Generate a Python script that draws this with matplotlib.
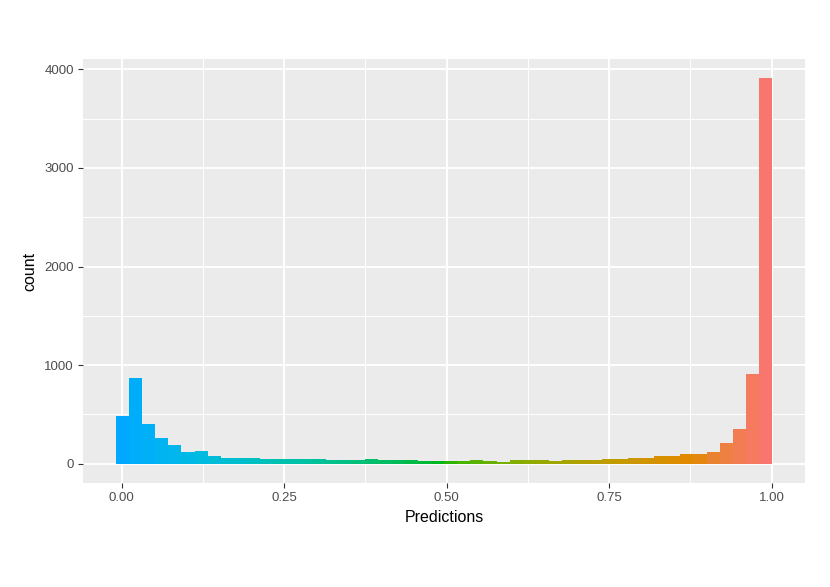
import numpy as np
import matplotlib
matplotlib.use("Agg")
import matplotlib.pyplot as plt
from matplotlib.ticker import MultipleLocator

# ---- data: histogram of predictions (50 bins) ----
counts = [485, 868, 405, 265, 190, 118, 130, 76, 60, 58,
          55, 50, 48, 47, 46, 45, 40, 40, 38, 50,
          40, 39, 38, 28, 27, 27, 28, 40, 30, 16,
          37, 38, 37, 25, 40, 41, 42, 48, 50, 57,
          60, 74, 78, 97, 100, 117, 212, 354, 908, 3910]
bin_lo, bin_hi = -0.0090, 1.0010
x_ticks = [0.00, 0.25, 0.50, 0.75, 1.00]
x_tick_labels = ["0.00", "0.25", "0.50", "0.75", "1.00"]
y_ticks = [0, 1000, 2000, 3000, 4000]
y_tick_labels = ["0", "1000", "2000", "3000", "4000"]
x_title = "Predictions"
y_title = "count"

counts = np.array(counts, dtype=float)
edges = np.linspace(bin_lo, bin_hi, len(counts) + 1)
centers = (edges[:-1] + edges[1:]) / 2
width = edges[1] - edges[0]


def hcl_to_rgb(h, c, l):
    hr = np.deg2rad(h)
    u = c * np.cos(hr)
    v = c * np.sin(hr)
    Xn, Yn, Zn = 95.047, 100.0, 108.883
    Y = Yn * ((l + 16) / 116) ** 3 if l > 8 else Yn * l / 903.3
    un = 4 * Xn / (Xn + 15 * Yn + 3 * Zn)
    vn = 9 * Yn / (Xn + 15 * Yn + 3 * Zn)
    up = u / (13 * l) + un
    vp = v / (13 * l) + vn
    X = Y * 9 * up / (4 * vp)
    Z = Y * (12 - 3 * up - 20 * vp) / (4 * vp)
    X, Y, Z = X / 100, Y / 100, Z / 100
    r = 3.2404542 * X - 1.5371385 * Y - 0.4985314 * Z
    g = -0.9692660 * X + 1.8760108 * Y + 0.0415560 * Z
    b = 0.0556434 * X - 0.2040259 * Y + 1.0572252 * Z

    def gam(t):
        t = max(t, 0.0)
        return 12.92 * t if t <= 0.0031308 else 1.055 * t ** (1 / 2.4) - 0.055
    return tuple(min(max(gam(t), 0), 1) for t in (r, g, b))


tnorm = (centers - centers.min()) / (centers.max() - centers.min())
colors = [hcl_to_rgb(240 - 225 * t, 100, 65) for t in tnorm]

W, H = 830, 587
fig = plt.figure(figsize=(W / 100, H / 100), dpi=100)
fig.patch.set_facecolor("white")
left, right, top, bottom = 83, 805, 59, 483
ax = fig.add_axes([left / W, (H - bottom) / H, (right - left) / W, (bottom - top) / H])
ax.set_facecolor("#EBEBEB")

ax.bar(centers, counts, width=width, color=colors, linewidth=0, zorder=3)

# ggplot-like expansion
xr = edges[-1] - edges[0]
ax.set_xlim(edges[0] - 0.05 * xr, edges[-1] + 0.05 * xr)
ymax = counts.max()
ax.set_ylim(-0.05 * ymax, ymax * 1.05)

ax.set_xticks(x_ticks)
ax.set_xticklabels(x_tick_labels)
ax.set_yticks(y_ticks)
ax.set_yticklabels(y_tick_labels)
ax.xaxis.set_minor_locator(MultipleLocator(0.125))
ax.yaxis.set_minor_locator(MultipleLocator(500))

ax.grid(which="major", color="white", linewidth=1.4, zorder=0)
ax.grid(which="minor", color="white", linewidth=0.7, zorder=0)
ax.set_axisbelow(True)
for s in ax.spines.values():
    s.set_visible(False)

font = ["Liberation Sans", "DejaVu Sans"]
ax.tick_params(which="major", length=3.5, width=0.8, color="#333333",
               labelcolor="#4D4D4D", labelsize=9.5, pad=3)
ax.tick_params(which="minor", length=0)
for lab in ax.get_xticklabels() + ax.get_yticklabels():
    lab.set_family(font)

ax.set_xlabel(x_title, fontsize=11.5, family=font, color="black", labelpad=4)
ax.set_ylabel(y_title, fontsize=11.5, family=font, color="black", labelpad=5)

fig.savefig("out.png", dpi=100, facecolor="white")
